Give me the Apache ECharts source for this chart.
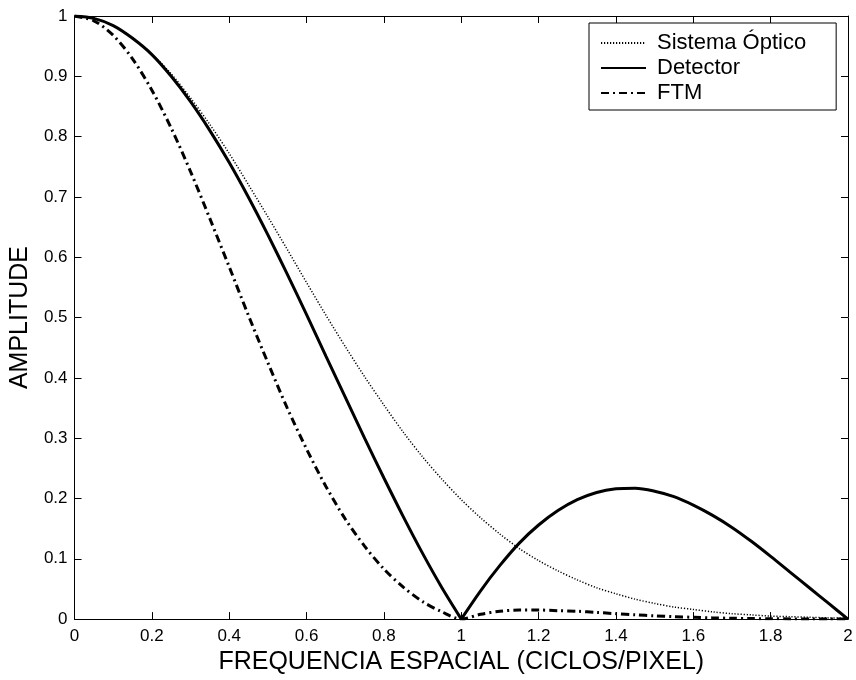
<!DOCTYPE html>
<html>
<head>
<meta charset="utf-8">
<script src="https://cdn.jsdelivr.net/npm/echarts@6/dist/echarts.min.js"></script>
<style>
html,body{margin:0;padding:0;background:#fff;}
#chart{width:856px;height:680px;}
</style>
</head>
<body>
<div id="chart"></div>
<script>
// Spatial frequency (cycles/pixel)
var freq = [0,0.05,0.10,0.15,0.20,0.25,0.30,0.35,0.40,0.45,0.50,0.55,0.60,0.65,0.70,0.75,0.80,0.85,0.90,0.95,
            1.00,1.05,1.10,1.15,1.20,1.25,1.30,1.35,1.40,1.45,1.50,1.55,1.60,1.65,1.70,1.75,1.80,1.85,1.90,1.95,2.00];
// Sistema Óptico (dotted)
var optico = [1,0.996,0.984,0.964,0.937,0.904,0.864,0.820,0.772,0.720,0.667,0.613,0.558,0.504,0.452,0.402,0.355,0.310,0.269,0.232,
              0.198,0.168,0.141,0.117,0.097,0.080,0.065,0.052,0.042,0.033,0.026,0.020,0.016,0.012,0.009,0.007,0.005,0.004,0.003,0.002,0.0015];
// Detector (solid)
var detector = [1,0.996,0.984,0.963,0.936,0.900,0.858,0.810,0.757,0.699,0.637,0.572,0.505,0.436,0.368,0.300,0.234,0.170,0.109,0.052,
                0,0.047,0.089,0.126,0.156,0.180,0.198,0.210,0.216,0.217,0.212,0.203,0.189,0.172,0.152,0.129,0.104,0.078,0.052,0.026,0];
// FTM (dash-dot)
var ftm = [1,0.992,0.968,0.929,0.877,0.814,0.742,0.664,0.584,0.503,0.425,0.350,0.282,0.220,0.166,0.121,0.083,0.053,0.029,0.012,
           0,0.008,0.013,0.015,0.015,0.014,0.013,0.011,0.009,0.007,0.0055,0.004,0.003,0.002,0.0014,0.0009,0.0006,0.0003,0.0002,0.0001,0];
var xTicks = [0,0.2,0.4,0.6,0.8,1,1.2,1.4,1.6,1.8,2];
var yTicks = [0,0.1,0.2,0.3,0.4,0.5,0.6,0.7,0.8,0.9,1];

function pairs(ys, from, to){
  var out = [];
  for (var i = from; i <= to; i++) out.push([freq[i], ys[i]]);
  return out;
}
var last = freq.length - 1;
var zeroIdx = freq.indexOf(1.00);

var FONT = 'Liberation Sans';
var chart = echarts.init(document.getElementById('chart'), null, {renderer:'canvas'});
var axisBase = {
  type:'value',
  axisLine:{show:true, onZero:false, lineStyle:{color:'#000', width:1}},
  axisTick:{show:true, inside:true, length:7, lineStyle:{color:'#000'}},
  splitLine:{show:false}
};
var detStyle = {color:'#000', width:3};
chart.setOption({
  backgroundColor:'#fff',
  animation:false,
  textStyle:{fontFamily:FONT},
  grid:{left:72, right:8, top:16, bottom:58, containLabel:false},
  legend:{
    orient:'vertical', left:589, top:23,
    data:['Sistema Óptico','Detector','FTM'],
    itemWidth:45, itemHeight:18, itemGap:3,
    padding:[9,30,6,11],
    borderColor:'#000', borderWidth:1, backgroundColor:'#fff',
    itemStyle:{opacity:0},
    textStyle:{fontFamily:FONT, fontSize:22, color:'#000', padding:[0,0,0,6]},
    inactiveColor:'#000'
  },
  xAxis:[
    Object.assign({}, axisBase, {
      position:'bottom', min:0, max:2, interval:0.2,
      axisLabel:{color:'#000', fontSize:17, fontFamily:FONT, margin:9},
      name:'FREQUENCIA ESPACIAL (CICLOS/PIXEL)', nameLocation:'middle', nameGap:30,
      nameTextStyle:{color:'#000', fontSize:25, fontFamily:FONT}
    }),
    Object.assign({}, axisBase, {
      position:'top', min:0, max:2, interval:0.2, axisLabel:{show:false}
    })
  ],
  yAxis:[
    Object.assign({}, axisBase, {
      position:'left', min:0, max:1, interval:0.1,
      axisLabel:{color:'#000', fontSize:17, fontFamily:FONT, margin:7},
      name:'AMPLITUDE', nameLocation:'middle', nameGap:39, nameRotate:90,
      nameTextStyle:{color:'#000', fontSize:25, fontFamily:FONT}
    }),
    Object.assign({}, axisBase, {
      position:'right', min:0, max:1, interval:0.1, axisLabel:{show:false}
    })
  ],
  series:[
    {name:'Sistema Óptico', type:'line', data:pairs(optico, 0, last), symbol:'none', smooth:0.3,
     lineStyle:{color:'#000', width:1.5, type:[1.2,1.8]}, itemStyle:{color:'#000'}},
    {name:'Detector', type:'line', data:pairs(detector, 0, zeroIdx), symbol:'none', smooth:0.3,
     lineStyle:detStyle, itemStyle:{color:'#000'}},
    {name:'Detector', type:'line', data:pairs(detector, zeroIdx, last), symbol:'none', smooth:0.3,
     lineStyle:detStyle, itemStyle:{color:'#000'}},
    {name:'FTM', type:'line', data:pairs(ftm, 0, last), symbol:'none', smooth:0.3,
     lineStyle:{color:'#000', width:3, type:[8,4,2,4]}, itemStyle:{color:'#000'}}
  ]
});
</script>
</body>
</html>
